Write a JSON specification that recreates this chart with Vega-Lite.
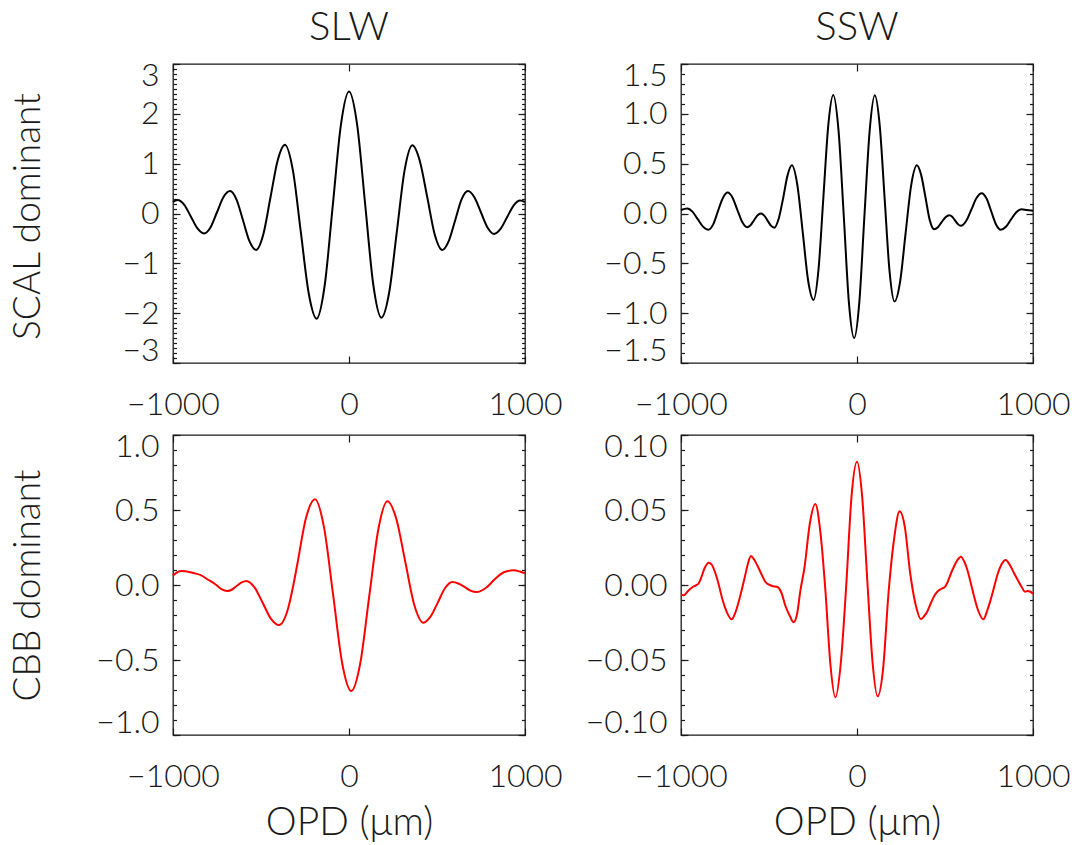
{
  "$schema": "https://vega.github.io/schema/vega-lite/v6.json",
  "background": "#ffffff",
  "padding": {"left": 8, "top": 7, "right": 5, "bottom": 5},
  "columns": 2,
  "spacing": {"row": 72, "column": 156},
  "bounds": "flush",
  "config": {
    "font": "Lato",
    "view": {"stroke": "#1a1a1a", "strokeWidth": 1.3},
    "axis": {
      "domain": false,
      "grid": false,
      "tickColor": "#1a1a1a",
      "tickWidth": 1.2,
      "tickSize": -7,
      "labelFont": "Lato",
      "labelFontSize": 32,
      "labelFontWeight": 300,
      "labelColor": "#1a1a1a",
      "labelOverlap": false,
      "labelBound": false,
      "titleFont": "Lato",
      "titleFontWeight": 300,
      "titleColor": "#1a1a1a"
    },
    "axisLeft": {"labelPadding": 21, "labelFlush": true, "labelFlushOffset": 4},
    "axisBottom": {"labelPadding": 33, "labelFlush": false},
    "title": {"font": "Lato", "fontSize": 40, "fontWeight": 300, "color": "#1a1a1a", "baseline": "alphabetic", "anchor": "middle", "frame": "group", "offset": 11}
  },
  "datasets": {
    "slw_scal": [
      {"opd": -1000, "v": 0.23}, {"opd": -975, "v": 0.27}, {"opd": -935, "v": 0.17}, {"opd": -898, "v": -0.065},
      {"opd": -861, "v": -0.30}, {"opd": -824, "v": -0.40}, {"opd": -787, "v": -0.28}, {"opd": -750, "v": 0.025},
      {"opd": -713, "v": 0.33}, {"opd": -676, "v": 0.45}, {"opd": -639, "v": 0.28}, {"opd": -602, "v": -0.14},
      {"opd": -565, "v": -0.56}, {"opd": -528, "v": -0.73}, {"opd": -487, "v": -0.42}, {"opd": -446, "v": 0.325},
      {"opd": -405, "v": 1.07}, {"opd": -364, "v": 1.38}, {"opd": -319, "v": 0.87}, {"opd": -274, "v": -0.365},
      {"opd": -229, "v": -1.60}, {"opd": -184, "v": -2.11}, {"opd": -138, "v": -1.44}, {"opd": -92, "v": 0.17},
      {"opd": -46, "v": 1.78}, {"opd": 0, "v": 2.45}, {"opd": 46, "v": 1.79}, {"opd": 92, "v": 0.18},
      {"opd": 138, "v": -1.43}, {"opd": 184, "v": -2.09}, {"opd": 228, "v": -1.59}, {"opd": 272, "v": -0.36},
      {"opd": 316, "v": 0.87}, {"opd": 360, "v": 1.37}, {"opd": 402, "v": 1.06}, {"opd": 445, "v": 0.32},
      {"opd": 487, "v": -0.42}, {"opd": 530, "v": -0.73}, {"opd": 566, "v": -0.56}, {"opd": 603, "v": -0.14},
      {"opd": 639, "v": 0.28}, {"opd": 676, "v": 0.45}, {"opd": 713, "v": 0.32}, {"opd": 750, "v": 0.02},
      {"opd": 787, "v": -0.28}, {"opd": 824, "v": -0.41}, {"opd": 861, "v": -0.31}, {"opd": 898, "v": -0.075},
      {"opd": 935, "v": 0.16}, {"opd": 972, "v": 0.26}, {"opd": 1000, "v": 0.23}
    ],
    "ssw_scal": [
      {"opd": -1000, "v": 0.035}, {"opd": -965, "v": 0.05}, {"opd": -935, "v": 0.019}, {"opd": -905, "v": -0.057},
      {"opd": -875, "v": -0.132}, {"opd": -845, "v": -0.163}, {"opd": -817, "v": -0.109}, {"opd": -790, "v": 0.024},
      {"opd": -762, "v": 0.156}, {"opd": -735, "v": 0.21}, {"opd": -707, "v": 0.159}, {"opd": -680, "v": 0.037},
      {"opd": -652, "v": -0.086}, {"opd": -625, "v": -0.137}, {"opd": -605, "v": -0.117}, {"opd": -585, "v": -0.068},
      {"opd": -566, "v": -0.02}, {"opd": -546, "v": 0.0}, {"opd": -527, "v": -0.021}, {"opd": -508, "v": -0.072},
      {"opd": -489, "v": -0.122}, {"opd": -470, "v": -0.143}, {"opd": -445, "v": -0.052}, {"opd": -420, "v": 0.15},
      {"opd": -395, "v": 0.38}, {"opd": -370, "v": 0.483}, {"opd": -339, "v": 0.286}, {"opd": -308, "v": -0.192},
      {"opd": -278, "v": -0.67}, {"opd": -247, "v": -0.867}, {"opd": -219, "v": -0.567}, {"opd": -191, "v": 0.162},
      {"opd": -163, "v": 0.89}, {"opd": -135, "v": 1.19}, {"opd": -105, "v": 0.834}, {"opd": -75, "v": -0.03},
      {"opd": -46, "v": -0.894}, {"opd": -16, "v": -1.25}, {"opd": 13, "v": -0.894}, {"opd": 42, "v": -0.03},
      {"opd": 72, "v": 0.831}, {"opd": 101, "v": 1.187}, {"opd": 129, "v": 0.885}, {"opd": 157, "v": 0.152},
      {"opd": 185, "v": -0.581}, {"opd": 213, "v": -0.883}, {"opd": 245, "v": -0.684}, {"opd": 276, "v": -0.2},
      {"opd": 308, "v": 0.284}, {"opd": 340, "v": 0.483}, {"opd": 364, "v": 0.39}, {"opd": 389, "v": 0.163},
      {"opd": 413, "v": -0.064}, {"opd": 438, "v": -0.157}, {"opd": 460, "v": -0.137}, {"opd": 481, "v": -0.087},
      {"opd": 503, "v": -0.037}, {"opd": 525, "v": -0.017}, {"opd": 541, "v": -0.032}, {"opd": 557, "v": -0.07},
      {"opd": 574, "v": -0.108}, {"opd": 590, "v": -0.123}, {"opd": 620, "v": -0.075}, {"opd": 650, "v": 0.04},
      {"opd": 679, "v": 0.155}, {"opd": 709, "v": 0.203}, {"opd": 736, "v": 0.15}, {"opd": 763, "v": 0.02},
      {"opd": 790, "v": -0.11}, {"opd": 817, "v": -0.163}, {"opd": 846, "v": -0.133}, {"opd": 875, "v": -0.06},
      {"opd": 905, "v": 0.013}, {"opd": 934, "v": 0.043}, {"opd": 965, "v": 0.035}, {"opd": 1000, "v": 0.027}
    ],
    "slw_cbb": [
      {"opd": -1000, "v": 0.064}, {"opd": -975, "v": 0.085}, {"opd": -955, "v": 0.093}, {"opd": -930, "v": 0.092},
      {"opd": -900, "v": 0.085}, {"opd": -870, "v": 0.076}, {"opd": -843, "v": 0.066}, {"opd": -800, "v": 0.035},
      {"opd": -760, "v": 0.005}, {"opd": -725, "v": -0.028}, {"opd": -691, "v": -0.04}, {"opd": -664, "v": -0.03},
      {"opd": -637, "v": -0.005}, {"opd": -610, "v": 0.017}, {"opd": -583, "v": 0.027}, {"opd": -537, "v": -0.016},
      {"opd": -490, "v": -0.12}, {"opd": -444, "v": -0.224}, {"opd": -398, "v": -0.267}, {"opd": -347, "v": -0.16},
      {"opd": -316, "v": 0.0}, {"opd": -295, "v": 0.13}, {"opd": -244, "v": 0.449}, {"opd": -193, "v": 0.571},
      {"opd": -142, "v": 0.384}, {"opd": -90, "v": -0.068}, {"opd": -39, "v": -0.52}, {"opd": 13, "v": -0.707},
      {"opd": 64, "v": -0.522}, {"opd": 115, "v": -0.075}, {"opd": 167, "v": 0.373}, {"opd": 218, "v": 0.558},
      {"opd": 269, "v": 0.44}, {"opd": 320, "v": 0.153}, {"opd": 371, "v": -0.133}, {"opd": 422, "v": -0.251},
      {"opd": 463, "v": -0.211}, {"opd": 505, "v": -0.116}, {"opd": 546, "v": -0.02}, {"opd": 587, "v": 0.02},
      {"opd": 621, "v": 0.01}, {"opd": 656, "v": -0.013}, {"opd": 690, "v": -0.037}, {"opd": 725, "v": -0.047},
      {"opd": 777, "v": -0.02}, {"opd": 830, "v": 0.04}, {"opd": 880, "v": 0.085}, {"opd": 934, "v": 0.098},
      {"opd": 970, "v": 0.09}, {"opd": 1000, "v": 0.078}
    ],
    "ssw_cbb": [
      {"opd": -1000, "v": -0.0064}, {"opd": -985, "v": -0.0069}, {"opd": -960, "v": -0.004}, {"opd": -935, "v": -0.0015},
      {"opd": -915, "v": -0.0002}, {"opd": -900, "v": 0.001}, {"opd": -885, "v": 0.005}, {"opd": -865, "v": 0.0115},
      {"opd": -843, "v": 0.0149}, {"opd": -825, "v": 0.0135}, {"opd": -805, "v": 0.008}, {"opd": -785, "v": 0.0},
      {"opd": -765, "v": -0.0095}, {"opd": -740, "v": -0.018}, {"opd": -712, "v": -0.0229}, {"opd": -690, "v": -0.018},
      {"opd": -665, "v": -0.008}, {"opd": -640, "v": 0.004}, {"opd": -620, "v": 0.014}, {"opd": -603, "v": 0.0193},
      {"opd": -585, "v": 0.017}, {"opd": -560, "v": 0.0115}, {"opd": -540, "v": 0.0065}, {"opd": -520, "v": 0.002},
      {"opd": -500, "v": 0.0002}, {"opd": -475, "v": -0.0008}, {"opd": -450, "v": -0.0015}, {"opd": -430, "v": -0.005},
      {"opd": -405, "v": -0.0145}, {"opd": -380, "v": -0.021}, {"opd": -360, "v": -0.0249}, {"opd": -340, "v": -0.019},
      {"opd": -322, "v": -0.004}, {"opd": -298, "v": 0.012}, {"opd": -268, "v": 0.041}, {"opd": -237, "v": 0.054},
      {"opd": -208, "v": 0.0352}, {"opd": -180, "v": -0.003}, {"opd": -151, "v": -0.053}, {"opd": -123, "v": -0.0749},
      {"opd": -92, "v": -0.052}, {"opd": -61, "v": 0.0}, {"opd": -31, "v": 0.0593}, {"opd": 0, "v": 0.0822},
      {"opd": 29, "v": 0.0594}, {"opd": 60, "v": 0.0}, {"opd": 88, "v": -0.051}, {"opd": 117, "v": -0.0742},
      {"opd": 148, "v": -0.0562}, {"opd": 180, "v": -0.004}, {"opd": 211, "v": 0.031}, {"opd": 242, "v": 0.0491},
      {"opd": 272, "v": 0.0386}, {"opd": 302, "v": 0.008}, {"opd": 333, "v": -0.013}, {"opd": 363, "v": -0.0227},
      {"opd": 380, "v": -0.021}, {"opd": 400, "v": -0.0175}, {"opd": 420, "v": -0.012}, {"opd": 438, "v": -0.0075},
      {"opd": 460, "v": -0.004}, {"opd": 480, "v": -0.0025}, {"opd": 500, "v": -0.0012}, {"opd": 515, "v": 0.002},
      {"opd": 533, "v": 0.0075}, {"opd": 550, "v": 0.012}, {"opd": 570, "v": 0.0165}, {"opd": 590, "v": 0.0189},
      {"opd": 610, "v": 0.0155}, {"opd": 627, "v": 0.01}, {"opd": 645, "v": 0.002}, {"opd": 665, "v": -0.0075},
      {"opd": 690, "v": -0.0175}, {"opd": 718, "v": -0.0229}, {"opd": 740, "v": -0.017}, {"opd": 760, "v": -0.0096},
      {"opd": 780, "v": -0.001}, {"opd": 797, "v": 0.0065}, {"opd": 820, "v": 0.0135}, {"opd": 845, "v": 0.0167},
      {"opd": 870, "v": 0.013}, {"opd": 892, "v": 0.008}, {"opd": 915, "v": 0.003}, {"opd": 934, "v": -0.001},
      {"opd": 955, "v": -0.0045}, {"opd": 970, "v": -0.004}, {"opd": 985, "v": -0.0045}, {"opd": 1000, "v": -0.0058}
    ]
  },
  "concat": [
    {
      "width": 352,
      "height": 299,
      "title": {"text": "SLW"},
      "data": {"name": "slw_scal"},
      "layer": [
        {
          "mark": {"type": "line", "color": "#000000", "strokeWidth": 2, "interpolate": "monotone"},
          "encoding": {
            "x": {"field": "opd", "type": "quantitative", "scale": {"domain": [-1000, 1000], "nice": false, "zero": false},
                  "axis": {"orient": "bottom", "values": [-1000, 0, 1000], "format": "d", "title": null}},
            "y": {"field": "v", "type": "quantitative", "scale": {"domain": [-3, 3], "nice": false, "zero": false},
                  "axis": {"orient": "left", "values": [-3, -2, -1, 0, 1, 2, 3], "format": "d", "title": "SCAL dominant",
                           "titleFontSize": 37, "titleAngle": -90, "titleX": -134, "titleY": 152, "titleAlign": "center", "titleBaseline": "alphabetic"}}
          }
        },
        {
          "mark": {"type": "line", "opacity": 0},
          "encoding": {
            "x": {"field": "opd", "type": "quantitative", "scale": {"domain": [-1000, 1000], "nice": false, "zero": false},
                  "axis": {"orient": "top", "values": [-1000, 0, 1000], "labels": false, "title": null}},
            "y": {"field": "v", "type": "quantitative", "scale": {"domain": [-3, 3], "nice": false, "zero": false},
                  "axis": {"orient": "right", "values": [-3, -2, -1, 0, 1, 2, 3], "labels": false, "title": null}}
          }
        },
        {
          "mark": {"type": "line", "opacity": 0},
          "encoding": {
            "x": {"field": "opd", "type": "quantitative", "scale": {"domain": [-1000, 1000], "nice": false, "zero": false}, "axis": null},
            "y": {"field": "v", "type": "quantitative", "scale": {"domain": [-3, 3], "nice": false, "zero": false},
                  "axis": {"orient": "left", "tickCount": 60, "tickSize": -3.5, "labels": false, "title": null}}
          }
        },
        {
          "mark": {"type": "line", "opacity": 0},
          "encoding": {
            "x": {"field": "opd", "type": "quantitative", "scale": {"domain": [-1000, 1000], "nice": false, "zero": false}, "axis": null},
            "y": {"field": "v", "type": "quantitative", "scale": {"domain": [-3, 3], "nice": false, "zero": false},
                  "axis": {"orient": "right", "tickCount": 60, "tickSize": -3.5, "labels": false, "title": null}}
          }
        }
      ],
      "resolve": {"axis": {"x": "independent", "y": "independent"}}
    },
    {
      "width": 352,
      "height": 299,
      "title": {"text": "SSW"},
      "data": {"name": "ssw_scal"},
      "layer": [
        {
          "mark": {"type": "line", "color": "#000000", "strokeWidth": 2, "interpolate": "monotone"},
          "encoding": {
            "x": {"field": "opd", "type": "quantitative", "scale": {"domain": [-1000, 1000], "nice": false, "zero": false},
                  "axis": {"orient": "bottom", "values": [-1000, 0, 1000], "format": "d", "title": null}},
            "y": {"field": "v", "type": "quantitative", "scale": {"domain": [-1.5, 1.5], "nice": false, "zero": false},
                  "axis": {"orient": "left", "values": [-1.5, -1, -0.5, 0, 0.5, 1, 1.5], "format": ".1f", "title": null}}
          }
        },
        {
          "mark": {"type": "line", "opacity": 0},
          "encoding": {
            "x": {"field": "opd", "type": "quantitative", "scale": {"domain": [-1000, 1000], "nice": false, "zero": false},
                  "axis": {"orient": "top", "values": [-1000, 0, 1000], "labels": false, "title": null}},
            "y": {"field": "v", "type": "quantitative", "scale": {"domain": [-1.5, 1.5], "nice": false, "zero": false},
                  "axis": {"orient": "right", "values": [-1.5, -1, -0.5, 0, 0.5, 1, 1.5], "labels": false, "title": null}}
          }
        },
        {
          "mark": {"type": "line", "opacity": 0},
          "encoding": {
            "x": {"field": "opd", "type": "quantitative", "scale": {"domain": [-1000, 1000], "nice": false, "zero": false}, "axis": null},
            "y": {"field": "v", "type": "quantitative", "scale": {"domain": [-1.5, 1.5], "nice": false, "zero": false},
                  "axis": {"orient": "left", "tickCount": 30, "tickSize": -3.5, "labels": false, "title": null}}
          }
        },
        {
          "mark": {"type": "line", "opacity": 0},
          "encoding": {
            "x": {"field": "opd", "type": "quantitative", "scale": {"domain": [-1000, 1000], "nice": false, "zero": false}, "axis": null},
            "y": {"field": "v", "type": "quantitative", "scale": {"domain": [-1.5, 1.5], "nice": false, "zero": false},
                  "axis": {"orient": "right", "tickCount": 30, "tickSize": -3.5, "labels": false, "title": null}}
          }
        }
      ],
      "resolve": {"axis": {"x": "independent", "y": "independent"}}
    },
    {
      "width": 352,
      "height": 300,
      "data": {"name": "slw_cbb"},
      "layer": [
        {
          "mark": {"type": "line", "color": "#ff0000", "strokeWidth": 2, "interpolate": "monotone"},
          "encoding": {
            "x": {"field": "opd", "type": "quantitative", "scale": {"domain": [-1000, 1000], "nice": false, "zero": false},
                  "axis": {"orient": "bottom", "values": [-1000, 0, 1000], "format": "d", "title": "OPD (μm)",
                           "titleFontSize": 39, "titleX": 176, "titleY": 99, "titleAlign": "center", "titleBaseline": "alphabetic", "titleAngle": 0}},
            "y": {"field": "v", "type": "quantitative", "scale": {"domain": [-1, 1], "nice": false, "zero": false},
                  "axis": {"orient": "left", "values": [-1, -0.5, 0, 0.5, 1], "format": ".1f", "title": "CBB dominant",
                           "titleFontSize": 37, "titleAngle": -90, "titleX": -134, "titleY": 150, "titleAlign": "center", "titleBaseline": "alphabetic"}}
          }
        },
        {
          "mark": {"type": "line", "opacity": 0},
          "encoding": {
            "x": {"field": "opd", "type": "quantitative", "scale": {"domain": [-1000, 1000], "nice": false, "zero": false},
                  "axis": {"orient": "top", "values": [-1000, 0, 1000], "labels": false, "title": null}},
            "y": {"field": "v", "type": "quantitative", "scale": {"domain": [-1, 1], "nice": false, "zero": false},
                  "axis": {"orient": "right", "values": [-1, -0.5, 0, 0.5, 1], "labels": false, "title": null}}
          }
        },
        {
          "mark": {"type": "line", "opacity": 0},
          "encoding": {
            "x": {"field": "opd", "type": "quantitative", "scale": {"domain": [-1000, 1000], "nice": false, "zero": false}, "axis": null},
            "y": {"field": "v", "type": "quantitative", "scale": {"domain": [-1, 1], "nice": false, "zero": false},
                  "axis": {"orient": "left", "tickCount": 20, "tickSize": -3.5, "labels": false, "title": null}}
          }
        },
        {
          "mark": {"type": "line", "opacity": 0},
          "encoding": {
            "x": {"field": "opd", "type": "quantitative", "scale": {"domain": [-1000, 1000], "nice": false, "zero": false}, "axis": null},
            "y": {"field": "v", "type": "quantitative", "scale": {"domain": [-1, 1], "nice": false, "zero": false},
                  "axis": {"orient": "right", "tickCount": 20, "tickSize": -3.5, "labels": false, "title": null}}
          }
        }
      ],
      "resolve": {"axis": {"x": "independent", "y": "independent"}}
    },
    {
      "width": 352,
      "height": 300,
      "data": {"name": "ssw_cbb"},
      "layer": [
        {
          "mark": {"type": "line", "color": "#ff0000", "strokeWidth": 2, "interpolate": "monotone"},
          "encoding": {
            "x": {"field": "opd", "type": "quantitative", "scale": {"domain": [-1000, 1000], "nice": false, "zero": false},
                  "axis": {"orient": "bottom", "values": [-1000, 0, 1000], "format": "d", "title": "OPD (μm)",
                           "titleFontSize": 39, "titleX": 176, "titleY": 99, "titleAlign": "center", "titleBaseline": "alphabetic", "titleAngle": 0}},
            "y": {"field": "v", "type": "quantitative", "scale": {"domain": [-0.1, 0.1], "nice": false, "zero": false},
                  "axis": {"orient": "left", "values": [-0.1, -0.05, 0, 0.05, 0.1], "format": ".2f", "title": null}}
          }
        },
        {
          "mark": {"type": "line", "opacity": 0},
          "encoding": {
            "x": {"field": "opd", "type": "quantitative", "scale": {"domain": [-1000, 1000], "nice": false, "zero": false},
                  "axis": {"orient": "top", "values": [-1000, 0, 1000], "labels": false, "title": null}},
            "y": {"field": "v", "type": "quantitative", "scale": {"domain": [-0.1, 0.1], "nice": false, "zero": false},
                  "axis": {"orient": "right", "values": [-0.1, -0.05, 0, 0.05, 0.1], "labels": false, "title": null}}
          }
        },
        {
          "mark": {"type": "line", "opacity": 0},
          "encoding": {
            "x": {"field": "opd", "type": "quantitative", "scale": {"domain": [-1000, 1000], "nice": false, "zero": false}, "axis": null},
            "y": {"field": "v", "type": "quantitative", "scale": {"domain": [-0.1, 0.1], "nice": false, "zero": false},
                  "axis": {"orient": "left", "tickCount": 20, "tickSize": -3.5, "labels": false, "title": null}}
          }
        },
        {
          "mark": {"type": "line", "opacity": 0},
          "encoding": {
            "x": {"field": "opd", "type": "quantitative", "scale": {"domain": [-1000, 1000], "nice": false, "zero": false}, "axis": null},
            "y": {"field": "v", "type": "quantitative", "scale": {"domain": [-0.1, 0.1], "nice": false, "zero": false},
                  "axis": {"orient": "right", "tickCount": 20, "tickSize": -3.5, "labels": false, "title": null}}
          }
        }
      ],
      "resolve": {"axis": {"x": "independent", "y": "independent"}}
    }
  ]
}
